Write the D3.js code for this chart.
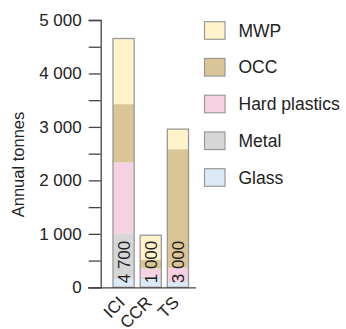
<!DOCTYPE html>
<html><head><meta charset="utf-8">
<script src="https://cdn.jsdelivr.net/npm/d3@7"></script>
<style>body{margin:0;background:#fff}text{font-family:"Liberation Sans",Arial,sans-serif;fill:#222}</style>
</head><body><svg id="c" width="346" height="329"></svg>
<script>
const categories = ["ICI", "CCR", "TS"];
const seriesNames = ["Glass", "Metal", "Hard plastics", "OCC", "MWP"];
const glass = [160, 150, 100];
const metal = [840, 50, 15];
const hardPlastics = [1336, 150, 250];
const occ = [1090, 170, 2219];
const mwp = [1228, 455, 375];
const totalLabels = ["4 700", "1 000", "3 000"];
const yTicks = [0, 500, 1000, 1500, 2000, 2500, 3000, 3500, 4000, 4500, 5000];
const colors = ["#dce9f6", "#d6d6d6", "#f4d2e2", "#d9c596", "#fff3cc"];
const legendOrder = ["MWP", "OCC", "Hard plastics", "Metal", "Glass"];

const seriesVals = [glass, metal, hardPlastics, occ, mwp];
const rows = categories.map((c, i) => {
  const r = {cat: c};
  seriesNames.forEach((s, j) => r[s] = seriesVals[j][i]);
  return r;
});
const stack = d3.stack().keys(seriesNames)(rows);
const color = d3.scaleOrdinal().domain(seriesNames).range(colors);

const svg = d3.select("#c");
const x = d3.scaleBand().domain(categories).range([107, 194.5]).paddingInner(0.22).paddingOuter(0.22);
const y = d3.scaleLinear().domain([0, 5000]).range([287.3, 20]);
const fmt = v => v % 1000 === 0 ? d3.format(",")(v).replace(/,/g, " ") : "";

// bars
stack.forEach(layer => {
  svg.append("g").selectAll("rect").data(layer).join("rect")
    .attr("x", d => x(d.data.cat)).attr("width", x.bandwidth())
    .attr("y", d => y(d[1])).attr("height", d => y(d[0]) - y(d[1]))
    .attr("fill", color(layer.key));
});
const totals = categories.map((c, i) => d3.sum(seriesVals, s => s[i]));
svg.append("g").selectAll("rect").data(categories).join("rect")
  .attr("x", c => x(c)).attr("width", x.bandwidth())
  .attr("y", (c, i) => y(totals[i])).attr("height", (c, i) => y(0) - y(totals[i]))
  .attr("fill", "none").attr("stroke", "#999").attr("stroke-width", 1.3);

// bar labels
svg.append("g").selectAll("text").data(categories).join("text")
  .attr("transform", c => `translate(${x(c) + x.bandwidth() / 2},${y(0) - 4}) rotate(-90)`)
  .attr("dy", "0.36em").attr("font-size", 17)
  .text((c, i) => totalLabels[i]);

// y axis
const yAxis = svg.append("g").attr("transform", "translate(100.7,0)")
  .call(d3.axisLeft(y).tickValues(yTicks).tickFormat(fmt).tickSize(12).tickPadding(7));
yAxis.select(".domain").attr("stroke", "#444").attr("stroke-width", 1.3);
yAxis.selectAll(".tick line").attr("stroke", "#444").attr("stroke-width", 1.3);
yAxis.selectAll("text").attr("font-size", 17).attr("font-family", "Liberation Sans, Arial, sans-serif").attr("fill", "#222");

// x axis
const xAxis = svg.append("g").attr("transform", `translate(0,${y(0)})`)
  .call(d3.axisBottom(x).tickSize(0).tickPadding(6));
xAxis.select(".domain").attr("d", "M88,0.5H196").attr("stroke", "#444").attr("stroke-width", 1.3);
xAxis.selectAll("text").attr("font-size", 17).attr("font-family", "Liberation Sans, Arial, sans-serif").attr("fill", "#222")
  .attr("text-anchor", "end").attr("x", 0).attr("y", 0).attr("dy", "0.35em")
  .attr("transform", "translate(-2,12) rotate(-45)");

// y title
svg.append("text").attr("transform", "translate(24,164.5) rotate(-90)")
  .attr("text-anchor", "middle").attr("font-size", 16.5).text("Annual tonnes");

// legend
const leg = svg.append("g").selectAll("g").data(legendOrder).join("g")
  .attr("transform", (d, i) => `translate(204.5,${21.7 + i * 36.75})`);
leg.append("rect").attr("width", 20.5).attr("height", 17.6)
  .attr("fill", d => color(d)).attr("stroke", "#999").attr("stroke-width", 1.2);
leg.append("text").attr("x", 34).attr("y", 8.8).attr("dy", "0.35em").attr("font-size", 17.5).text(d => d);
</script></body></html>
